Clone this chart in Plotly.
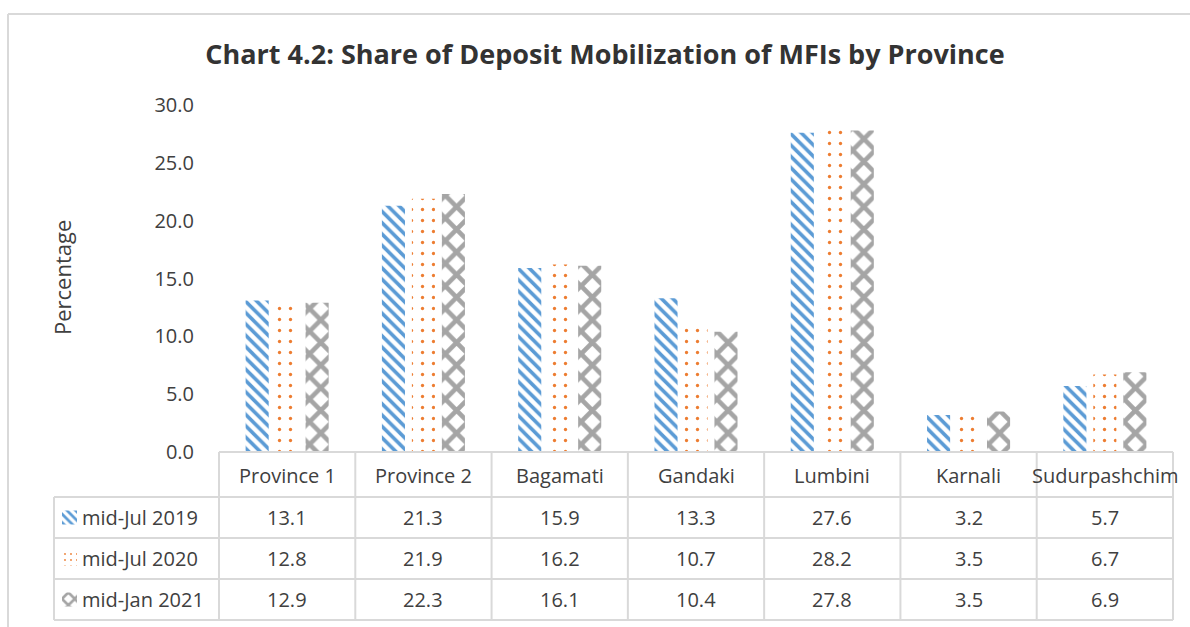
import plotly.graph_objects as go

categories = ["Province 1", "Province 2", "Bagamati", "Gandaki", "Lumbini", "Karnali", "Sudurpashchim"]
series_names = ["mid-Jul 2019", "mid-Jul 2020", "mid-Jan 2021"]
jul2019 = [13.1, 21.3, 15.9, 13.3, 27.6, 3.2, 5.7]
jul2020 = [12.8, 21.9, 16.2, 10.7, 28.2, 3.5, 6.7]
jan2021 = [12.9, 22.3, 16.1, 10.4, 27.8, 3.5, 6.9]
y_ticks = [0, 5, 10, 15, 20, 25, 30]

W, H = 1190, 627
# plot area in pixels
PX0, PX1, PY0, PY1 = 219, 1173, 105, 452

def fy(py):
    return (H - py) / H

def fx(px):
    return px / W

colors = ["#5B9BD5", "#ED7D31", "#A5A5A5"]
patterns = [
    dict(shape="\\", fgcolor="#5B9BD5", bgcolor="white", size=8, solidity=0.45, fillmode="replace"),
    dict(shape=".", fgcolor="#ED7D31", bgcolor="white", size=11, solidity=0.07, fillmode="replace"),
    dict(shape="x", fgcolor="#A5A5A5", bgcolor="white", size=16, solidity=0.5, fillmode="replace"),
]
series = [jul2019, jul2020, jan2021]
text_color = "#404040"
font = "Open Sans"
fs = 20

fig = go.Figure()
for name, vals, pat in zip(series_names, series, patterns):
    fig.add_trace(go.Bar(
        x=list(range(len(categories))), y=vals, name=name,
        marker=dict(color="white", pattern=pat, line=dict(width=0)),
        hoverinfo="y+name", xaxis="x", yaxis="y",
    ))

row_y = [452, 497, 538, 579, 620]
n = len(categories)

# legend key swatches in a tiny pixel-scaled subplot
for r, pat in enumerate(patterns):
    yc_px = (row_y[r + 1] + row_y[r + 2]) / 2
    sw_pat = dict(pat)
    sw_pat["size"] = 6 if r != 2 else 9
    fig.add_trace(go.Bar(
        x=[0.5], y=[14], base=[row_y[-1] - yc_px - 7], width=[1], offset=-0.5,
        xaxis="x2", yaxis="y2", showlegend=False, hoverinfo="skip",
        marker=dict(color="white", pattern=sw_pat, line=dict(width=0)),
    ))

shapes = []
line_col = "#D9D9D9"
shapes.append(dict(type="line", xref="paper", yref="paper", x0=fx(8), x1=1, y0=fy(14), y1=fy(14),
                   line=dict(color=line_col, width=2)))
shapes.append(dict(type="line", xref="paper", yref="paper", x0=fx(8), x1=fx(8), y0=fy(14), y1=0,
                   line=dict(color=line_col, width=2)))
shapes.append(dict(type="line", xref="paper", yref="paper", x0=fx(PX0), x1=fx(PX1), y0=fy(row_y[0]), y1=fy(row_y[0]),
                   line=dict(color=line_col, width=2)))
for yy in row_y[1:]:
    shapes.append(dict(type="line", xref="paper", yref="paper", x0=fx(54), x1=fx(PX1), y0=fy(yy), y1=fy(yy),
                       line=dict(color=line_col, width=2)))
colw = (PX1 - PX0) / n
for i in range(n + 1):
    xx = PX0 + i * colw
    shapes.append(dict(type="line", xref="paper", yref="paper", x0=fx(xx), x1=fx(xx), y0=fy(row_y[0]), y1=fy(row_y[-1]),
                       line=dict(color=line_col, width=2)))
shapes.append(dict(type="line", xref="paper", yref="paper", x0=fx(54), x1=fx(54), y0=fy(row_y[1]), y1=fy(row_y[-1]),
                   line=dict(color=line_col, width=2)))

annotations = []
for i, c in enumerate(categories):
    annotations.append(dict(x=i, y=fy((row_y[0] + row_y[1]) / 2 + 1), xref="x", yref="paper", text=c, showarrow=False,
                            font=dict(family=font, size=fs, color=text_color), xanchor="center", yanchor="middle"))
for r, (name, vals) in enumerate(zip(series_names, series)):
    yc = fy((row_y[r + 1] + row_y[r + 2]) / 2)
    annotations.append(dict(x=fx(80), y=yc, xref="paper", yref="paper", text=name, showarrow=False,
                            font=dict(family=font, size=fs, color=text_color), xanchor="left", yanchor="middle"))
    for i, v in enumerate(vals):
        annotations.append(dict(x=i, y=yc, xref="x", yref="paper", text=f"{v:.1f}", showarrow=False,
                                font=dict(family=font, size=fs, color=text_color), xanchor="center", yanchor="middle"))
annotations.append(dict(x=fx(62), y=fy(278), xref="paper", yref="paper", text="Percentage", textangle=-90,
                        showarrow=False, font=dict(family=font, size=22, color=text_color),
                        xanchor="center", yanchor="middle"))

fig.update_layout(
    width=W, height=H, autosize=False,
    margin=dict(l=0, r=0, t=0, b=0, autoexpand=False),
    paper_bgcolor="white", plot_bgcolor="white",
    barmode="group", bargap=0.34, bargroupgap=0.23,
    showlegend=False,
    title=dict(text="<b>Chart 4.2: Share of Deposit Mobilization of MFIs by Province</b>",
               x=605 / W, xanchor="center", y=fy(55), yanchor="middle",
               font=dict(family=font, size=27, color="#333333")),
    xaxis=dict(domain=[fx(PX0), fx(PX1)], range=[-0.5, n - 0.5], showticklabels=False, showgrid=False,
               zeroline=False, showline=False, anchor="y", automargin=False),
    yaxis=dict(domain=[fy(PY1), fy(PY0)], range=[0, 30], tickvals=y_ticks,
               ticktext=[f"{v:.1f}" for v in y_ticks], showgrid=False, zeroline=False, showline=False,
               ticks="", ticklabelstandoff=24, anchor="x", automargin=False,
               tickfont=dict(family=font, size=fs, color=text_color)),
    xaxis2=dict(domain=[fx(62), fx(77)], range=[0, 1], visible=False, anchor="y2", automargin=False),
    yaxis2=dict(domain=[fy(row_y[-1]), fy(row_y[1])], range=[0, row_y[-1] - row_y[1]], visible=False,
                anchor="x2", automargin=False),
    shapes=shapes, annotations=annotations,
)

fig.write_html("out.html", config={"displayModeBar": False},
               post_script="document.body.style.margin='0';document.body.style.overflow='hidden';")
